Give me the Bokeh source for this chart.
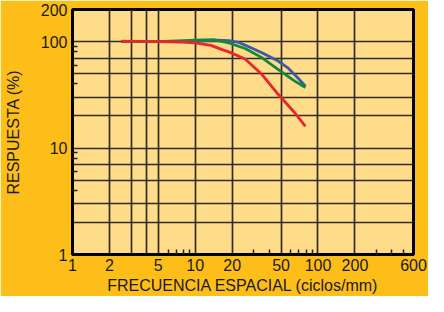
from bokeh.plotting import figure
from bokeh.models import FixedTicker, NumeralTickFormatter
from bokeh.embed import file_html
from bokeh.resources import INLINE

# Data
freq_blue = [2.5, 5, 10, 15, 18.8, 22.6, 27, 34.6, 47, 56.5, 68, 79]
resp_blue = [100, 100, 101, 103, 102, 98, 90, 79, 66, 57, 46, 38]

freq_green = [2.5, 5, 10, 14, 16, 18.8, 25.5, 34.6, 47, 63.8, 79]
resp_green = [100, 100, 103, 104, 101, 97, 86, 71, 55, 43, 37]

freq_red = [2.5, 5, 7.7, 10, 13.4, 17, 18.8, 25.5, 34.6, 47, 63.8, 79]
resp_red = [101, 100, 99, 97, 92, 83, 80, 68.6, 49.6, 32.3, 21.8, 16]

x_labels = [1, 2, 5, 10, 20, 50, 100, 200, 600]
x_grid = [2, 3, 4, 5, 10, 20, 50, 100, 200]
x_minor = [6, 7, 8, 9, 30, 40, 60, 70, 80, 90, 300, 400, 500]

y_labels = [1, 10, 100, 200]
y_grid = [2, 3, 5, 7, 10, 20, 30, 50, 70, 100]
y_minor = [4, 6, 8, 9, 40, 60, 80, 90]

ORANGE = "#FDBE19"
FILL = "#FEDC8A"
GRID = "#2f2b25"

p = figure(width=428, height=296, x_axis_type="log", y_axis_type="log",
           x_range=(1, 600), y_range=(1, 200),
           output_backend="svg", toolbar_location=None,
           min_border_left=72, min_border_right=15, min_border_top=9, min_border_bottom=41)

p.background_fill_color = FILL
p.border_fill_color = ORANGE
p.outline_line_color = "black"
p.outline_line_width = 3

for ax, ticks, minor in ((p.xaxis[0], x_labels, x_minor), (p.yaxis[0], y_labels, y_minor)):
    ax.ticker = FixedTicker(ticks=ticks, minor_ticks=minor)
    ax.formatter = NumeralTickFormatter(format="0")
    ax.major_tick_in = 0
    ax.major_tick_out = 0
    ax.minor_tick_in = 5
    ax.minor_tick_out = 0
    ax.minor_tick_line_color = "#222222"
    ax.minor_tick_line_width = 1.5
    ax.axis_line_color = "black"
    ax.axis_line_width = 3
    ax.major_label_text_font = "Liberation Sans"
    ax.major_label_text_font_size = "16px"
    ax.major_label_text_color = "#1a1a1a"
    ax.axis_label_text_font = "Liberation Sans"
    ax.axis_label_text_font_size = "16px"
    ax.axis_label_text_font_style = "normal"
    ax.axis_label_text_color = "#1a1a1a"

p.xaxis.axis_label = "FRECUENCIA ESPACIAL (ciclos/mm)"
p.yaxis.axis_label = "RESPUESTA (%)"
p.xaxis.major_label_standoff = 4
p.xaxis.axis_label_standoff = 3
p.yaxis.major_label_standoff = 5
p.yaxis.axis_label_standoff = 16

p.xgrid.ticker = FixedTicker(ticks=x_grid)
p.ygrid.ticker = FixedTicker(ticks=y_grid)
for g in (p.xgrid[0], p.ygrid[0]):
    g.grid_line_color = GRID
    g.grid_line_width = 1.7
    g.grid_line_alpha = 1.0

p.line(freq_blue, resp_blue, line_color="#3D5AA8", line_width=2.8)
p.line(freq_green, resp_green, line_color="#11893D", line_width=2.8)
p.line(freq_red, resp_red, line_color="#E8262B", line_width=2.8)

open("out.html", "w").write(file_html(p, INLINE))
